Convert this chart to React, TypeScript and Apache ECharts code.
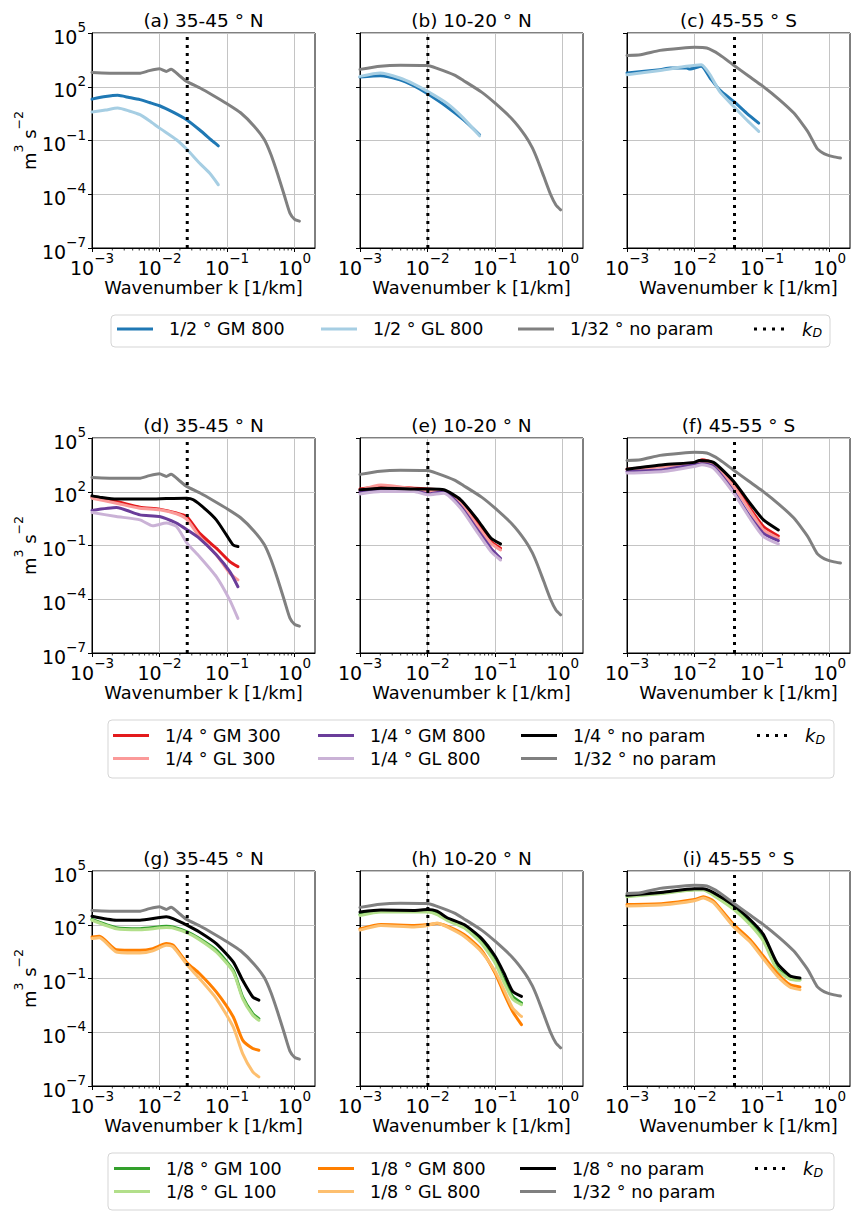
import React, { useEffect, useRef } from 'react';
import * as echarts from 'echarts';

const FONT = 'DejaVu Sans';

// ---------- axis ranges (log10 units) ----------
const LOG_K_MIN = -3; // 10^-3 1/km
const LOG_K_MAX = Math.log10(2); // 2 1/km
const LOG_E_MIN = -7; // 10^-7 m^3 s^-2
const LOG_E_MAX = 5; // 10^5 m^3 s^-2

// ---------- deformation wavenumber k_D [1/km] ----------
const KD_NA = 0.0257; // 35-45 N
const KD_TR = 0.0101; // 10-20 N
const KD_SO = 0.039; // 45-55 S

// ---------- curves: [log10 k (1/km), log10 E (m^3 s^-2)] ----------
// 1/32 degree reference, per region
const NA_32 = [[-3, 2.8], [-2.6, 2.75], [-2.3, 2.75], [-2.15, 2.9], [-2.0, 3.0], [-1.9, 2.85], [-1.83, 2.98], [-1.7, 2.6], [-1.6, 2.3], [-1.4, 1.93], [-1.2, 1.5], [-1.0, 1.05], [-0.8, 0.55], [-0.6, -0.2], [-0.45, -0.95], [-0.35, -1.8], [-0.25, -2.9], [-0.15, -4.1], [-0.07, -5.05], [0, -5.4], [0.07, -5.5]];
const TR_32 = [[-3, 2.97], [-2.7, 3.15], [-2.4, 3.2], [-2.0, 3.18], [-1.87, 3.04], [-1.6, 2.65], [-1.47, 2.35], [-1.2, 1.7], [-1.0, 1.08], [-0.75, 0.2], [-0.55, -0.75], [-0.45, -1.4], [-0.37, -2.1], [-0.28, -3.0], [-0.18, -4.0], [-0.1, -4.6], [-0.03, -4.87]];
const SO_32 = [[-3, 3.75], [-2.8, 3.79], [-2.51, 4.03], [-2.2, 4.15], [-2.0, 4.2], [-1.82, 4.16], [-1.63, 3.79], [-1.43, 3.23], [-1.2, 2.6], [-1.0, 2.06], [-0.75, 1.3], [-0.53, 0.53], [-0.4, -0.1], [-0.31, -0.59], [-0.19, -1.42], [-0.1, -1.7], [-0.04, -1.8], [0.05, -1.9], [0.16, -1.98]];

// (a) (b) (c): 1/2 degree
const A_GM800 = [[-3, 1.31], [-2.8, 1.45], [-2.62, 1.52], [-2.45, 1.4], [-2.29, 1.28], [-2.15, 1.12], [-2.0, 0.94], [-1.8, 0.58], [-1.6, 0.16], [-1.41, -0.4], [-1.21, -1.05], [-1.13, -1.3]];
const A_GL800 = [[-3, 0.59], [-2.8, 0.7], [-2.62, 0.81], [-2.45, 0.65], [-2.29, 0.44], [-2.15, 0.1], [-2.0, -0.31], [-1.75, -0.96], [-1.59, -1.52], [-1.41, -2.26], [-1.26, -2.82], [-1.13, -3.47]];
const B_GM800 = [[-3, 2.54], [-2.7, 2.62], [-2.41, 2.39], [-2.2, 2.05], [-2.0, 1.61], [-1.72, 0.9], [-1.47, 0.16], [-1.23, -0.68]];
const B_GL800 = [[-3, 2.58], [-2.7, 2.77], [-2.41, 2.49], [-2.2, 2.15], [-2.0, 1.74], [-1.72, 1.09], [-1.47, 0.25], [-1.23, -0.74]];
const C_GM800 = [[-3, 2.77], [-2.51, 2.95], [-2.36, 3.04], [-2.12, 3.04], [-2.07, 2.99], [-1.9, 3.14], [-1.77, 2.49], [-1.63, 1.83], [-1.42, 1.18], [-1.23, 0.53], [-1.05, -0.03]];
const C_GL800 = [[-3, 2.67], [-2.51, 2.91], [-2.12, 3.14], [-1.9, 3.23], [-1.77, 2.67], [-1.63, 1.74], [-1.42, 0.9], [-1.23, 0.16], [-1.05, -0.49]];

// (d) (e) (f): 1/4 degree
const D_GM300 = [[-3, 1.7], [-2.64, 1.46], [-2.29, 1.14], [-2.0, 1.03], [-1.75, 0.81], [-1.6, 0.62], [-1.41, -0.31], [-1.16, -1.15], [-0.96, -1.9], [-0.84, -2.18]];
const D_GL300 = [[-3, 1.64], [-2.64, 1.36], [-2.29, 1.08], [-2.0, 0.99], [-1.75, 0.77], [-1.6, 0.47], [-1.41, -0.5], [-1.16, -1.52], [-0.96, -2.55], [-0.84, -2.92]];
const D_GM800 = [[-3, 0.96], [-2.64, 1.12], [-2.29, 0.71], [-2.0, 0.62], [-1.75, 0.25], [-1.59, -0.13], [-1.41, -0.6], [-1.16, -1.52], [-0.96, -2.46], [-0.84, -3.3]];
const D_GL800 = [[-3, 0.84], [-2.64, 0.62], [-2.29, 0.43], [-2.1, 0.1], [-1.9, 0.25], [-1.75, 0.06], [-1.59, -0.88], [-1.41, -1.62], [-1.16, -2.74], [-0.96, -4.05], [-0.84, -5.07]];
const D_NP = [[-3, 1.77], [-2.89, 1.7], [-2.64, 1.59], [-2.15, 1.59], [-1.9, 1.62], [-1.6, 1.64], [-1.5, 1.55], [-1.31, 0.99], [-1.16, 0.43], [-1.01, -0.41], [-0.91, -0.97], [-0.84, -1.06]];
const E_GM300 = [[-3, 2.15], [-2.69, 2.3], [-2.2, 2.2], [-2.0, 2.15], [-1.76, 2.07], [-1.51, 1.46], [-1.26, 0.24], [-1.06, -0.78], [-0.92, -1.16]];
const E_GL300 = [[-3, 2.07], [-2.69, 2.37], [-2.2, 2.15], [-2.0, 2.01], [-1.76, 2.01], [-1.51, 1.36], [-1.26, 0.09], [-1.06, -0.88], [-0.92, -1.25]];
const E_GM800 = [[-3, 2.01], [-2.69, 2.15], [-2.2, 2.07], [-2.0, 1.88], [-1.76, 2.01], [-1.51, 1.18], [-1.26, -0.13], [-1.06, -1.16], [-0.92, -1.72]];
const E_GL800 = [[-3, 1.88], [-2.69, 2.01], [-2.2, 2.01], [-2.0, 1.83], [-1.76, 1.92], [-1.51, 1.08], [-1.26, -0.28], [-1.06, -1.34], [-0.92, -1.81]];
const E_NP = [[-3, 2.11], [-2.69, 2.2], [-2.2, 2.16], [-2.0, 2.15], [-1.76, 2.11], [-1.51, 1.55], [-1.26, 0.43], [-1.06, -0.6], [-0.92, -0.91]];
const F_GM300 = [[-3, 3.26], [-2.46, 3.45], [-2.0, 3.6], [-1.89, 3.79], [-1.72, 3.6], [-1.42, 2.39], [-1.18, 1.08], [-0.98, 0.06], [-0.76, -0.47]];
const F_GL300 = [[-3, 3.23], [-2.46, 3.41], [-2.0, 3.56], [-1.89, 3.69], [-1.72, 3.51], [-1.42, 2.29], [-1.18, 0.95], [-0.98, -0.13], [-0.76, -0.6]];
const F_GM800 = [[-3, 3.13], [-2.46, 3.23], [-2.0, 3.51], [-1.89, 3.56], [-1.72, 3.41], [-1.42, 2.01], [-1.18, 0.62], [-0.98, -0.32], [-0.76, -0.73]];
const F_GL800 = [[-3, 3.04], [-2.46, 3.13], [-2.0, 3.41], [-1.89, 3.51], [-1.72, 3.32], [-1.42, 1.92], [-1.18, 0.52], [-0.98, -0.5], [-0.76, -0.91]];
const F_NP = [[-3, 3.26], [-2.46, 3.51], [-2.0, 3.64], [-1.93, 3.75], [-1.72, 3.64], [-1.42, 2.57], [-1.18, 1.36], [-0.98, 0.43], [-0.76, -0.13]];

// (g) (h) (i): 1/8 degree
const G_GM100 = [[-3, 2.3], [-2.64, 1.84], [-2.29, 1.78], [-1.9, 1.91], [-1.8, 1.88], [-1.59, 1.6], [-1.41, 1.23], [-1.16, 0.58], [-0.91, -0.54], [-0.77, -2.03], [-0.62, -2.96], [-0.53, -3.24]];
const G_GL100 = [[-3, 2.25], [-2.64, 1.78], [-2.29, 1.72], [-1.9, 1.84], [-1.8, 1.82], [-1.59, 1.54], [-1.41, 1.17], [-1.16, 0.48], [-0.91, -0.63], [-0.77, -2.12], [-0.62, -3.05], [-0.53, -3.33]];
const G_GM800 = [[-3, 1.32], [-2.89, 1.36], [-2.64, 0.61], [-2.29, 0.57], [-2.1, 0.67], [-1.9, 0.95], [-1.8, 0.86], [-1.59, -0.13], [-1.41, -0.72], [-1.16, -1.75], [-0.91, -3.14], [-0.77, -4.44], [-0.62, -4.91], [-0.53, -5.0]];
const G_GL800 = [[-3, 1.23], [-2.89, 1.27], [-2.64, 0.48], [-2.29, 0.42], [-2.1, 0.54], [-1.9, 0.86], [-1.8, 0.77], [-1.59, -0.25], [-1.41, -1.0], [-1.16, -2.12], [-0.91, -3.7], [-0.77, -5.19], [-0.62, -6.21], [-0.53, -6.49]];
const G_NP = [[-3, 2.47], [-2.64, 2.25], [-2.29, 2.25], [-1.9, 2.44], [-1.8, 2.34], [-1.59, 1.97], [-1.41, 1.6], [-1.16, 0.95], [-0.91, -0.07], [-0.77, -1.1], [-0.62, -2.03], [-0.53, -2.21]];
const H_GM100 = [[-3, 2.57], [-2.69, 2.76], [-2.2, 2.76], [-2.0, 2.76], [-1.86, 2.63], [-1.71, 2.29], [-1.46, 1.88], [-1.21, 1.08], [-1.0, -0.04], [-0.87, -1.06], [-0.74, -2.0], [-0.61, -2.37]];
const H_GL100 = [[-3, 2.52], [-2.69, 2.71], [-2.2, 2.71], [-2.0, 2.71], [-1.86, 2.57], [-1.71, 2.24], [-1.46, 1.83], [-1.21, 0.99], [-1.0, -0.13], [-0.87, -1.21], [-0.74, -2.15], [-0.61, -2.46]];
const H_GM800 = [[-3, 1.77], [-2.69, 2.01], [-2.2, 1.96], [-2.0, 2.01], [-1.86, 2.07], [-1.71, 1.92], [-1.46, 1.45], [-1.21, 0.62], [-1.0, -0.69], [-0.87, -1.81], [-0.74, -2.84], [-0.61, -3.58]];
const H_GL800 = [[-3, 1.7], [-2.69, 1.96], [-2.2, 1.88], [-2.0, 1.96], [-1.86, 2.1], [-1.71, 1.88], [-1.46, 1.36], [-1.21, 0.52], [-1.0, -0.6], [-0.87, -1.62], [-0.74, -2.65], [-0.61, -3.12]];
const H_NP = [[-3, 2.71], [-2.69, 2.82], [-2.2, 2.8], [-2.0, 2.85], [-1.86, 2.76], [-1.71, 2.39], [-1.46, 2.01], [-1.21, 1.27], [-1.0, 0.24], [-0.87, -0.69], [-0.74, -1.72], [-0.61, -2.0]];
const I_GM100 = [[-3, 3.6], [-2.46, 3.79], [-2.0, 3.97], [-1.87, 3.97], [-1.72, 3.69], [-1.42, 2.95], [-1.18, 2.11], [-0.98, 1.17], [-0.78, -0.41], [-0.59, -0.97], [-0.44, -1.06]];
const I_GL100 = [[-3, 3.56], [-2.46, 3.75], [-2.0, 3.94], [-1.87, 3.94], [-1.72, 3.64], [-1.42, 2.86], [-1.18, 2.01], [-0.98, 1.08], [-0.78, -0.5], [-0.59, -1.03], [-0.44, -1.1]];
const I_GM800 = [[-3, 3.13], [-2.46, 3.19], [-2.0, 3.41], [-1.87, 3.56], [-1.72, 3.32], [-1.42, 2.01], [-1.18, 1.17], [-0.98, 0.24], [-0.78, -0.69], [-0.59, -1.34], [-0.44, -1.47]];
const I_GL800 = [[-3, 3.04], [-2.46, 3.11], [-2.0, 3.34], [-1.87, 3.49], [-1.72, 3.23], [-1.42, 1.88], [-1.18, 1.05], [-0.98, 0.09], [-0.78, -0.84], [-0.59, -1.47], [-0.44, -1.62]];
const I_NP = [[-3, 3.64], [-2.46, 3.82], [-2.0, 4.01], [-1.87, 4.01], [-1.72, 3.79], [-1.42, 3.08], [-1.18, 2.29], [-0.98, 1.45], [-0.78, -0.13], [-0.59, -0.84], [-0.44, -0.97]];

// ---------- names / colours ----------
const N32 = '1/32 ° no param';
const KD = 'k_D';
const COLORS: Record<string, string> = {
  '1/2 ° GM 800': '#1f78b4', '1/2 ° GL 800': '#a6cee3',
  '1/4 ° GM 300': '#e31a1c', '1/4 ° GL 300': '#fb9a99', '1/4 ° GM 800': '#6a3d9a', '1/4 ° GL 800': '#cab2d6', '1/4 ° no param': '#000000',
  '1/8 ° GM 100': '#33a02c', '1/8 ° GL 100': '#b2df8a', '1/8 ° GM 800': '#ff7f00', '1/8 ° GL 800': '#fdbf6f', '1/8 ° no param': '#000000',
  [N32]: '#808080', [KD]: '#000000',
};

const TITLES = ['(a) 35-45 ° N', '(b) 10-20 ° N', '(c) 45-55 ° S', '(d) 35-45 ° N', '(e) 10-20 ° N', '(f) 45-55 ° S', '(g) 35-45 ° N', '(h) 10-20 ° N', '(i) 45-55 ° S'];

const PANELS: { kd: number; lines: [string, number[][]][] }[] = [
  { kd: KD_NA, lines: [['1/2 ° GM 800', A_GM800], ['1/2 ° GL 800', A_GL800], [N32, NA_32]] },
  { kd: KD_TR, lines: [['1/2 ° GM 800', B_GM800], ['1/2 ° GL 800', B_GL800], [N32, TR_32]] },
  { kd: KD_SO, lines: [['1/2 ° GM 800', C_GM800], ['1/2 ° GL 800', C_GL800], [N32, SO_32]] },
  { kd: KD_NA, lines: [['1/4 ° GM 300', D_GM300], ['1/4 ° GL 300', D_GL300], ['1/4 ° GM 800', D_GM800], ['1/4 ° GL 800', D_GL800], ['1/4 ° no param', D_NP], [N32, NA_32]] },
  { kd: KD_TR, lines: [['1/4 ° GM 300', E_GM300], ['1/4 ° GL 300', E_GL300], ['1/4 ° GM 800', E_GM800], ['1/4 ° GL 800', E_GL800], ['1/4 ° no param', E_NP], [N32, TR_32]] },
  { kd: KD_SO, lines: [['1/4 ° GM 300', F_GM300], ['1/4 ° GL 300', F_GL300], ['1/4 ° GM 800', F_GM800], ['1/4 ° GL 800', F_GL800], ['1/4 ° no param', F_NP], [N32, SO_32]] },
  { kd: KD_NA, lines: [['1/8 ° GM 100', G_GM100], ['1/8 ° GL 100', G_GL100], ['1/8 ° GM 800', G_GM800], ['1/8 ° GL 800', G_GL800], ['1/8 ° no param', G_NP], [N32, NA_32]] },
  { kd: KD_TR, lines: [['1/8 ° GM 100', H_GM100], ['1/8 ° GL 100', H_GL100], ['1/8 ° GM 800', H_GM800], ['1/8 ° GL 800', H_GL800], ['1/8 ° no param', H_NP], [N32, TR_32]] },
  { kd: KD_SO, lines: [['1/8 ° GM 100', I_GM100], ['1/8 ° GL 100', I_GL100], ['1/8 ° GM 800', I_GM800], ['1/8 ° GL 800', I_GL800], ['1/8 ° no param', I_NP], [N32, SO_32]] },
];

// ---------- layout ----------
const ROW_TOP = [33, 438, 871];
const COL_LEFT = [92, 360, 627];
const PW = 223;
const PH = 215;

const expStr = (e: number) => (e < 0 ? '\u2212' + -e : String(e));
const TICK_RICH = {
  b: { fontSize: 19, lineHeight: 26, verticalAlign: 'bottom', fontFamily: FONT, color: '#000' },
  s: { fontSize: 13.5, lineHeight: 14, verticalAlign: 'top', fontFamily: FONT, color: '#000' },
};
const NAME_RICH = {
  b: { fontSize: 18, lineHeight: 26, verticalAlign: 'bottom', fontFamily: FONT, color: '#000' },
  s: { fontSize: 12.5, lineHeight: 14, verticalAlign: 'top', fontFamily: FONT, color: '#000' },
};
const LEGEND_RICH = {
  t: { fontSize: 17.5, lineHeight: 20, fontFamily: FONT, color: '#000', padding: [0, 0, 0, 11] },
  k: { fontSize: 18, lineHeight: 20, fontStyle: 'italic', fontFamily: FONT, color: '#000', padding: [0, 0, 0, 13] },
  d: { fontSize: 12.5, lineHeight: 12, fontStyle: 'italic', verticalAlign: 'bottom', fontFamily: FONT, color: '#000' },
};
const DOT_ICON = 'path://M0,0h3v3h-3zM9,0h3v3h-3zM18,0h3v3h-3zM27,0h3v3h-3z';

function legendFormatter(name: string) {
  if (name === KD) return '{k|k}{d|D}';
  return '{t|' + name + '}';
}

function makeLegend(left: number, top: number, names: string[], gap: number) {
  const isKd = names[0] === KD;
  return {
    show: true,
    orient: 'vertical',
    left,
    top,
    padding: 0,
    itemGap: gap,
    itemWidth: isKd ? 30 : 36,
    itemHeight: 3,
    icon: isKd ? DOT_ICON : 'rect',
    selectedMode: false,
    data: names,
    formatter: legendFormatter,
    textStyle: { color: '#000', fontFamily: FONT, fontSize: 17.5, rich: LEGEND_RICH },
  };
}

function buildOption() {
  const grid: any[] = [];
  const xAxis: any[] = [];
  const yAxis: any[] = [];
  const series: any[] = [];
  const graphic: any[] = [];

  const minorTicks: number[] = [];
  for (let d = -3; d <= 0; d++) {
    for (let m = 2; m <= 9; m++) {
      const v = d + Math.log10(m);
      if (v < LOG_K_MAX - 1e-6) minorTicks.push(v);
    }
  }

  PANELS.forEach((p, i) => {
    const row = Math.floor(i / 3);
    const col = i % 3;
    grid.push({
      left: COL_LEFT[col], top: ROW_TOP[row], width: PW, height: PH,
      show: true, borderColor: '#000', borderWidth: 1, backgroundColor: 'transparent',
      containLabel: false, outerBoundsMode: 'none',
    });
    xAxis.push({
      type: 'value', gridIndex: i, min: LOG_K_MIN, max: LOG_K_MAX, interval: 1,
      name: 'Wavenumber k [1/km]', nameLocation: 'middle', nameGap: 30,
      nameTextStyle: { fontSize: 17.8, fontFamily: FONT, color: '#000' },
      axisLine: { show: true, onZero: false, lineStyle: { color: '#000', width: 1 } },
      axisTick: { show: true, length: 4, lineStyle: { color: '#000', width: 1 }, customValues: [-3, -2, -1, 0] },
      axisLabel: {
        margin: 3, fontSize: 19, fontFamily: FONT, color: '#000', rich: TICK_RICH,
        formatter: (v: number) => {
          const e = Math.round(v);
          if (Math.abs(v - e) > 1e-6) return '';
          return '{b|10}{s|' + expStr(e) + '}';
        },
      },
      splitLine: { show: true, lineStyle: { color: '#c4c4c4', width: 1 } },
    });
    yAxis.push({
      type: 'value', gridIndex: i, min: 0, max: LOG_E_MAX - LOG_E_MIN, interval: 3,
      name: col === 0 ? '{b|m}{s|3}{b| s}{s|\u22122}' : '',
      nameLocation: 'middle', nameGap: 46,
      nameTextStyle: { fontSize: 18, fontFamily: FONT, color: '#000', align: 'center', rich: NAME_RICH },
      axisLine: { show: true, onZero: false, lineStyle: { color: '#000', width: 1 } },
      axisTick: { show: true, length: 4, lineStyle: { color: '#000', width: 1 } },
      axisLabel: {
        show: col === 0, margin: 6, fontSize: 19, fontFamily: FONT, color: '#000', rich: TICK_RICH,
        formatter: (v: number) => '{b|10}{s|' + expStr(Math.round(v + LOG_E_MIN)) + '}',
      },
      splitLine: { show: true, lineStyle: { color: '#c4c4c4', width: 1 } },
    });

    p.lines.forEach(([name, pts], j) => {
      const c = COLORS[name];
      series.push({
        type: 'line', name, xAxisIndex: i, yAxisIndex: i,
        data: pts.map(([lk, le]) => [lk, le - LOG_E_MIN]),
        symbol: 'none', showSymbol: false, smooth: 0.2,
        color: c, itemStyle: { color: c },
        lineStyle: { color: c, width: 3, join: 'round', cap: 'round' },
        emphasis: { disabled: true }, silent: true, z: 3 + j * 0.01,
      });
    });
    const lkd = Math.log10(p.kd);
    series.push({
      type: 'line', name: KD, xAxisIndex: i, yAxisIndex: i,
      data: [[lkd, 0], [lkd, LOG_E_MAX - LOG_E_MIN]],
      symbol: 'none', showSymbol: false,
      color: '#000', itemStyle: { color: '#000' },
      lineStyle: { color: '#000', width: 3, type: [3, 5] },
      emphasis: { disabled: true }, silent: true, z: 4,
    });
    series.push({
      type: 'custom', xAxisIndex: i, yAxisIndex: i, silent: true, clip: false, z: 5,
      data: minorTicks.map((v) => [v, 0]),
      renderItem: (_params: any, api: any) => {
        const pt = api.coord([api.value(0), 0]);
        return {
          type: 'line',
          shape: { x1: pt[0], y1: pt[1], x2: pt[0], y2: pt[1] + 2.5 },
          style: { stroke: '#000', lineWidth: 0.8 },
        };
      },
    });

    graphic.push({
      type: 'text', x: COL_LEFT[col] + PW / 2, y: ROW_TOP[row] - 13, silent: true,
      style: { text: TITLES[i], fontSize: 18.5, fontFamily: FONT, fill: '#000', align: 'center', verticalAlign: 'middle', textAlign: 'center', textVerticalAlign: 'middle' },
    });
  });

  // legend boxes
  const boxes = [
    { x: 111, y: 315, w: 719, h: 32 },
    { x: 108, y: 720, w: 726, h: 58 },
    { x: 108, y: 1153, w: 726, h: 57 },
  ];
  boxes.forEach((b) => {
    graphic.push({
      type: 'rect', silent: true, z: 0,
      shape: { x: b.x, y: b.y, width: b.w, height: b.h, r: 4 },
      style: { fill: '#fff', stroke: '#d5d5d5', lineWidth: 1 },
    });
  });

  const legend = [
    makeLegend(117, 320, ['1/2 ° GM 800'], 5),
    makeLegend(321, 320, ['1/2 ° GL 800'], 5),
    makeLegend(518, 320, [N32], 5),
    makeLegend(754, 320, [KD], 5),
    makeLegend(113, 726.5, ['1/4 ° GM 300', '1/4 ° GL 300'], 5),
    makeLegend(318, 726.5, ['1/4 ° GM 800', '1/4 ° GL 800'], 5),
    makeLegend(521, 726.5, ['1/4 ° no param', N32], 5),
    makeLegend(757, 726.5, [KD], 5),
    makeLegend(114, 1159.5, ['1/8 ° GM 100', '1/8 ° GL 100'], 5),
    makeLegend(318, 1159.5, ['1/8 ° GM 800', '1/8 ° GL 800'], 5),
    makeLegend(520, 1159.5, ['1/8 ° no param', N32], 5),
    makeLegend(755, 1159.5, [KD], 5),
  ];

  return {
    animation: false,
    backgroundColor: '#fff',
    textStyle: { fontFamily: FONT },
    grid, xAxis, yAxis, series, graphic, legend,
  };
}

export default function App() {
  const ref = useRef<HTMLDivElement>(null);
  useEffect(() => {
    const chart = echarts.init(ref.current as HTMLDivElement, null, { renderer: 'svg' });
    chart.setOption(buildOption() as any);
    return () => chart.dispose();
  }, []);
  return <div ref={ref} style={{ position: 'absolute', left: 0, top: 0, width: 851, height: 1212 }} />;
}
